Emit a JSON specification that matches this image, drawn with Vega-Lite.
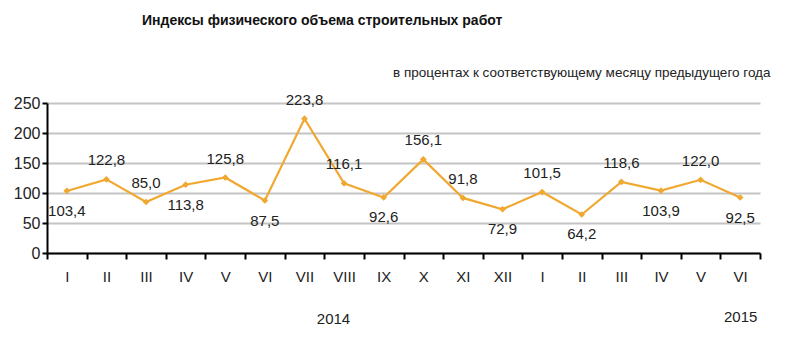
{
  "$schema": "https://vega.github.io/schema/vega-lite/v6.json",
  "autosize": "none",
  "width": 713,
  "height": 150,
  "padding": {"left": 47, "top": 103, "right": 40, "bottom": 101},
  "background": "white",
  "config": {
    "view": {"stroke": null},
    "font": "Liberation Sans",
    "locale": {"number": {"decimal": ",", "thousands": " ", "grouping": [3], "currency": ["", ""]}}
  },
  "title": {
    "text": "Индексы физического объема строительных работ",
    "anchor": "start",
    "frame": "group",
    "dx": 95,
    "dy": -33,
    "font": "Liberation Sans",
    "fontSize": 14,
    "fontWeight": "bold",
    "color": "#111111"
  },
  "data": {
    "values": [
      {"period": "I 2014", "value": 103.4, "pos": "below"},
      {"period": "II 2014", "value": 122.8, "pos": "above"},
      {"period": "III 2014", "value": 85.0, "pos": "above"},
      {"period": "IV 2014", "value": 113.8, "pos": "below"},
      {"period": "V 2014", "value": 125.8, "pos": "above"},
      {"period": "VI 2014", "value": 87.5, "pos": "below"},
      {"period": "VII 2014", "value": 223.8, "pos": "above"},
      {"period": "VIII 2014", "value": 116.1, "pos": "above"},
      {"period": "IX 2014", "value": 92.6, "pos": "below"},
      {"period": "X 2014", "value": 156.1, "pos": "above"},
      {"period": "XI 2014", "value": 91.8, "pos": "above"},
      {"period": "XII 2014", "value": 72.9, "pos": "below"},
      {"period": "I 2015", "value": 101.5, "pos": "above"},
      {"period": "II 2015", "value": 64.2, "pos": "below"},
      {"period": "III 2015", "value": 118.6, "pos": "above"},
      {"period": "IV 2015", "value": 103.9, "pos": "below"},
      {"period": "V 2015", "value": 122.0, "pos": "above"},
      {"period": "VI 2015", "value": 92.5, "pos": "below"}
    ]
  },
  "encoding": {
    "x": {
      "field": "period",
      "type": "nominal",
      "sort": null,
      "scale": {"type": "band", "paddingInner": 0, "paddingOuter": 0},
      "axis": {
        "title": "2014",
        "titleX": 286,
        "titleY": 65,
        "titleAlign": "center",
        "titleBaseline": "middle",
        "titleFont": "Liberation Sans",
        "titleFontSize": 15,
        "titleFontWeight": "normal",
        "titleColor": "#222222",
        "labelAngle": 0,
        "labelExpr": "datum.label == 'VI 2015' ? ['VI', '2015'] : split(datum.label, ' ')[0]",
        "labelFont": "Liberation Sans",
        "labelFontSize": 15,
        "labelColor": "#222222",
        "labelLineHeight": 40,
        "labelPadding": 10,
        "tickBand": "extent",
        "tickSize": 6,
        "tickColor": "#000000",
        "tickWidth": 2,
        "domainColor": "#000000",
        "domainWidth": 2,
        "grid": false
      }
    },
    "y": {
      "field": "value",
      "type": "quantitative",
      "scale": {"domain": [0, 250], "nice": false},
      "axis": {
        "values": [0, 50, 100, 150, 200, 250],
        "title": "в процентах к соответствующему месяцу предыдущего года",
        "titleAngle": 0,
        "titleX": 723,
        "titleY": -31,
        "titleAlign": "right",
        "titleBaseline": "middle",
        "titleFont": "Liberation Sans",
        "titleFontSize": 13.5,
        "titleFontWeight": "normal",
        "titleColor": "#222222",
        "labelFont": "Liberation Sans",
        "labelFontSize": 16,
        "labelColor": "#222222",
        "labelPadding": 2,
        "tickSize": 5,
        "tickColor": "#000000",
        "tickWidth": 2,
        "domainColor": "#000000",
        "domainWidth": 2,
        "grid": true,
        "gridColor": "#c4c4c4",
        "gridWidth": 2
      }
    }
  },
  "layer": [
    {
      "mark": {"type": "line", "color": "#F0A830", "strokeWidth": 2.2}
    },
    {
      "mark": {"type": "point", "shape": "diamond", "filled": true, "size": 45, "color": "#F0A830", "opacity": 1}
    },
    {
      "transform": [{"filter": "datum.pos == 'above'"}],
      "mark": {"type": "text", "dy": -19, "fontSize": 15, "color": "#222222", "baseline": "middle"},
      "encoding": {"text": {"field": "value", "type": "quantitative", "format": ".1f"}}
    },
    {
      "transform": [{"filter": "datum.pos == 'below'"}],
      "mark": {"type": "text", "dy": 20, "fontSize": 15, "color": "#222222", "baseline": "middle"},
      "encoding": {"text": {"field": "value", "type": "quantitative", "format": ".1f"}}
    }
  ]
}
